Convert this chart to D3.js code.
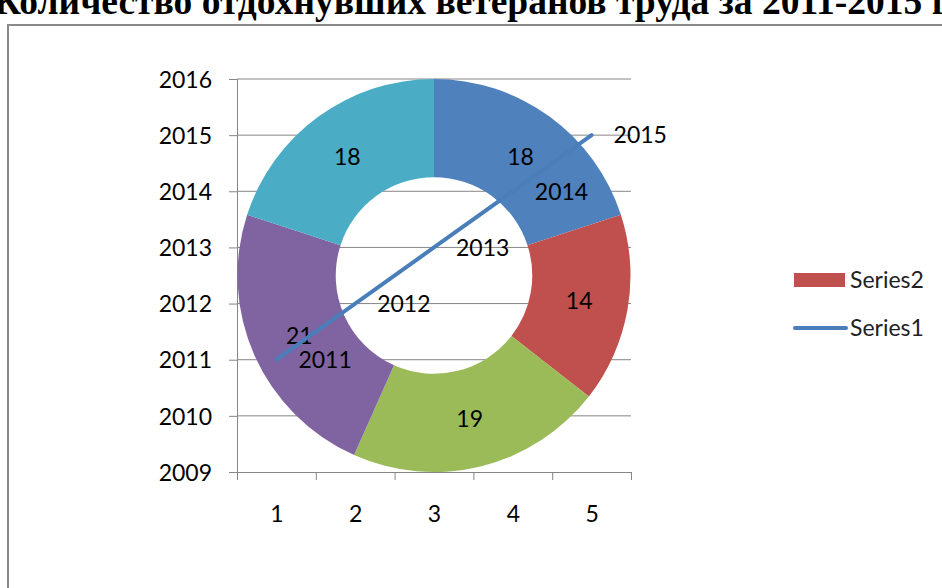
<!DOCTYPE html>
<html>
<head>
<meta charset="utf-8">
<script src="https://cdn.jsdelivr.net/npm/d3@7"></script>
<style>
  html, body { margin: 0; padding: 0; background: #fff; overflow: hidden; }
  .axis text { font-family: Lato, "Open Sans", sans-serif; font-size: 23px; fill: #000; }
  .axis path, .axis line { stroke: #868686; }
</style>
</head>
<body>
<svg id="chart"></svg>
<script>
// chart data
const categories = [1, 2, 3, 4, 5];
const series1 = [2011, 2012, 2013, 2014, 2015];
const series2 = [18, 14, 19, 21, 18];
const yTicks = [2009, 2010, 2011, 2012, 2013, 2014, 2015, 2016];
const sliceColors = ['#4F81BD', '#C0504D', '#9BBB59', '#8064A2', '#4BACC6'];
const titleText = 'Количество отдохнувших ветеранов труда за 2011-2015 г.';

const width = 942, height = 588;
const margin = {top: 79, left: 237, right: 311, bottom: 116};

const svg = d3.select('#chart')
    .attr('width', width)
    .attr('height', height);

// title (cut off by the top of the page)
svg.append('text')
    .attr('x', -6)
    .attr('y', 14)
    .attr('font-family', '"Liberation Serif", "Times New Roman", serif')
    .attr('font-weight', 'bold')
    .attr('font-size', 37.5)
    .text(titleText);

// outer frame
svg.append('rect')
    .attr('x', 8)
    .attr('y', 25)
    .attr('width', 1000)
    .attr('height', 700)
    .attr('fill', 'none')
    .attr('stroke', '#8a8a8a')
    .attr('stroke-width', 2);

const innerW = width - margin.left - margin.right;
const innerH = height - margin.top - margin.bottom;

const chart = svg.append('g')
    .attr('transform', `translate(${margin.left},${margin.top})`);

const xScale = d3.scaleLinear()
    .domain([0.5, categories.length + 0.5])
    .range([0, innerW]);

const yScale = d3.scaleLinear()
    .domain([d3.min(yTicks), d3.max(yTicks)])
    .range([innerH, 0]);

// gridlines
chart.append('g')
    .selectAll('line')
    .data(yTicks.slice(1))
  .join('line')
    .attr('x1', 0)
    .attr('x2', innerW)
    .attr('y1', d => yScale(d))
    .attr('y2', d => yScale(d))
    .attr('stroke', '#868686')
    .attr('stroke-width', 1);

// y axis
const yAxisG = chart.append('g')
    .attr('class', 'axis y-axis')
    .call(d3.axisLeft(yScale)
      .tickValues(yTicks)
      .tickFormat(d3.format('d'))
      .tickSizeOuter(0)
      .tickSize(8)
      .tickPadding(17));
yAxisG.selectAll('text').attr('dy', '0.36em');

// x axis: tick marks between categories, labels at category centres
const boundaries = d3.range(0.5, categories.length + 1, 1);
chart.append('g')
    .attr('class', 'axis x-axis')
    .attr('transform', `translate(0,${innerH})`)
    .call(d3.axisBottom(xScale)
      .tickValues(boundaries)
      .tickFormat('')
      .tickSizeOuter(0)
      .tickSize(8));

const xLabels = chart.append('g')
    .attr('class', 'axis x-labels')
    .attr('transform', `translate(0,${innerH})`)
    .call(d3.axisBottom(xScale)
      .tickValues(categories)
      .tickFormat(d3.format('d'))
      .tickSize(0)
      .tickPadding(34));
xLabels.select('.domain').remove();

// doughnut (Series2), centred in the plot area
const outerR = innerH / 2;
const innerR = outerR * 0.5;
const pie = d3.pie().sort(null).value(d => d);
const arc = d3.arc().innerRadius(innerR).outerRadius(outerR);

const donut = chart.append('g')
    .attr('transform', `translate(${innerW / 2},${innerH / 2})`);

const slices = pie(series2);
donut.selectAll('path')
    .data(slices)
  .join('path')
    .attr('d', arc)
    .attr('fill', (d, i) => sliceColors[i]);

donut.selectAll('text')
    .data(slices)
  .join('text')
    .attr('transform', d => `translate(${arc.centroid(d)})`)
    .attr('text-anchor', 'middle')
    .attr('dy', '0.36em')
    .attr('font-family', 'Lato, "Open Sans", sans-serif')
    .attr('font-size', 23)
    .text(d => d.data);

// line (Series1)
const line = d3.line()
    .x((d, i) => xScale(categories[i]))
    .y(d => yScale(d));

chart.append('path')
    .datum(series1)
    .attr('d', line)
    .attr('fill', 'none')
    .attr('stroke', '#4A7EBB')
    .attr('stroke-width', 4)
    .attr('stroke-linecap', 'round');

chart.append('g')
    .selectAll('text')
    .data(series1)
  .join('text')
    .attr('x', (d, i) => xScale(categories[i]) + 22)
    .attr('y', d => yScale(d))
    .attr('dy', '0.36em')
    .attr('font-family', 'Lato, "Open Sans", sans-serif')
    .attr('font-size', 23)
    .text(d => d);

// legend
const legend = svg.append('g')
    .attr('transform', 'translate(794,280)');

legend.append('rect')
    .attr('x', 0)
    .attr('y', -7)
    .attr('width', 51)
    .attr('height', 14)
    .attr('fill', sliceColors[1]);

legend.append('text')
    .attr('x', 56)
    .attr('y', 0)
    .attr('dy', '0.36em')
    .attr('font-family', 'Lato, "Open Sans", sans-serif')
    .attr('font-size', 23)
    .attr('fill', '#222')
    .text('Series2');

legend.append('line')
    .attr('x1', 1)
    .attr('x2', 52)
    .attr('y1', 48)
    .attr('y2', 48)
    .attr('stroke', '#4A7EBB')
    .attr('stroke-width', 4)
    .attr('stroke-linecap', 'round');

legend.append('text')
    .attr('x', 56)
    .attr('y', 48)
    .attr('dy', '0.36em')
    .attr('font-family', 'Lato, "Open Sans", sans-serif')
    .attr('font-size', 23)
    .attr('fill', '#222')
    .text('Series1');
</script>
</body>
</html>
